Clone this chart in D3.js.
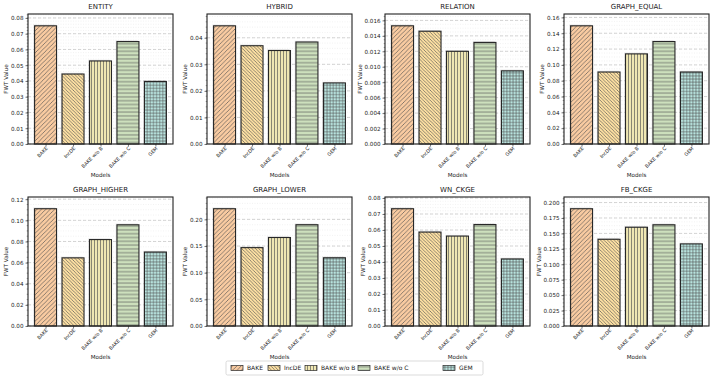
<!DOCTYPE html>
<html>
<head>
<meta charset="utf-8">
<script src="https://cdn.jsdelivr.net/npm/d3@7"></script>
<style>
  body { margin: 0; background: #fff; }
  svg text { font-family: "DejaVu Sans", sans-serif; fill: #222; }
</style>
</head>
<body>
<svg id="chart"></svg>
<script>
let W = 713, H = 378

// data
const models = ['BAKE', 'IncDE', 'BAKE w/o B', 'BAKE w/o C', 'GEM']
const datasets = ['ENTITY', 'HYBRID', 'RELATION', 'GRAPH_EQUAL', 'GRAPH_HIGHER', 'GRAPH_LOWER', 'WN_CKGE', 'FB_CKGE']
const entityVals = [0.0750, 0.0444, 0.0527, 0.0650, 0.0397]
const hybridVals = [0.0445, 0.0370, 0.0352, 0.0384, 0.0230]
const relationVals = [0.0153, 0.0146, 0.0120, 0.01315, 0.00947]
const graphEqualVals = [0.1494, 0.0910, 0.1139, 0.1295, 0.0910]
const graphHigherVals = [0.1110, 0.0645, 0.0818, 0.0958, 0.0700]
const graphLowerVals = [0.2200, 0.1470, 0.1660, 0.1900, 0.1280]
const wnCkgeVals = [0.0733, 0.0587, 0.0562, 0.0634, 0.0419]
const fbCkgeVals = [0.1900, 0.1405, 0.1600, 0.1640, 0.1330]
const allVals = [entityVals, hybridVals, relationVals, graphEqualVals, graphHigherVals, graphLowerVals, wnCkgeVals, fbCkgeVals]
const tickSteps = [0.01, 0.01, 0.002, 0.02, 0.02, 0.05, 0.01, 0.025]
const tickFormats = ['.2f', '.2f', '.3f', '.2f', '.2f', '.2f', '.2f', '.3f']

const fills = ['#f9cba1', '#fde0a2', '#efe7b3', '#cde0bd', '#b8e3de']
const hatches = ['diag', 'back', 'vert', 'horiz', 'cross']

// panel frames (tight layout)
const panelLeft = [28, 207, 385, 564]
const panelRight = [173, 352, 530, 709]
const rowTop = [14, 197]
const rowBottom = [144, 326]

let svg = d3.select('#chart').attr('width', W).attr('height', H)
let defs = svg.append('defs')

function makeHatch(id, kind, fill, size){
  let p = defs.append('pattern').attr('id', id)
    .attr('patternUnits', 'userSpaceOnUse').attr('width', size).attr('height', size)
  p.append('rect').attr('width', size).attr('height', size).attr('fill', fill)
  let st = (sel) => sel.attr('stroke', '#505050').attr('stroke-width', kind == 'cross' ? 0.55 : 0.65).attr('fill', 'none')
  if(kind == 'diag'){
    st(p.append('path').attr('d', `M0,${size} L${size},0 M${-size/2},${size/2} L${size/2},${-size/2} M${size/2},${size*1.5} L${size*1.5},${size/2}`))
  } else if(kind == 'back'){
    st(p.append('path').attr('d', `M0,0 L${size},${size} M${-size/2},${size/2} L${size/2},${size*1.5} M${size/2},${-size/2} L${size*1.5},${size/2}`))
  } else if(kind == 'vert'){
    st(p.append('path').attr('d', `M${size/2},0 L${size/2},${size}`))
  } else if(kind == 'horiz'){
    st(p.append('path').attr('d', `M0,${size/2} L${size},${size/2}`))
  } else {
    st(p.append('path').attr('d', `M${size/2},0 L${size/2},${size} M0,${size/2} L${size},${size/2}`))
  }
}
const hatchSize = [4.4, 3.4, 3, 3.8, 3.1]
models.forEach((m, i) => makeHatch(`h${i}`, hatches[i], fills[i], hatchSize[i]))

const drawPanel = (k) => {
  let col = k % 4, row = Math.floor(k / 4)
  let x0 = panelLeft[col], x1 = panelRight[col], y0 = rowTop[row], y1 = rowBottom[row]
  let vals = allVals[k]
  let step = tickSteps[k]
  let yMax = d3.max(vals) * 1.1
  let x = d3.scaleLinear().domain([-0.64, 4.64]).range([x0, x1])
  let y = d3.scaleLinear().domain([0, yMax]).range([y1, y0])
  let g = svg.append('g')

  // minor grid
  let nMinor = [0.025, 0.02, 0.002].some(s => Math.abs(s - step) < 1e-9) ? 4 : 5
  let minorTicks = d3.range(0, yMax + 1e-12, step / nMinor)
  let majorTicks = d3.range(0, yMax + 1e-12, step)
  g.selectAll('.minor').data(minorTicks).enter().append('line')
    .attr('x1', x0).attr('x2', x1).attr('y1', d => y(d)).attr('y2', d => y(d))
    .attr('stroke', '#ddd').attr('stroke-width', 0.4).attr('stroke-dasharray', '1,1.5')
  g.selectAll('.major').data(majorTicks).enter().append('line')
    .attr('x1', x0).attr('x2', x1).attr('y1', d => y(d)).attr('y2', d => y(d))
    .attr('stroke', '#bbb').attr('stroke-width', 0.6).attr('stroke-dasharray', '3,2')

  // bars with light shadow
  let bw = x(0.4) - x(0)
  g.selectAll('.shadow').data(vals).enter().append('rect')
    .attr('x', (d, i) => x(i) - bw - 1.2).attr('y', d => y(d) - 1.2)
    .attr('width', bw * 2).attr('height', d => y1 - y(d) + 1.2)
    .attr('fill', '#999').attr('opacity', 0.3)
  g.selectAll('.bar').data(vals).enter().append('rect')
    .attr('x', (d, i) => x(i) - bw).attr('y', d => y(d))
    .attr('width', bw * 2).attr('height', d => y1 - y(d))
    .attr('fill', (d, i) => `url(#h${i})`)
    .attr('stroke', '#262626').attr('stroke-width', 1.1)

  // frame
  g.append('rect').attr('x', x0).attr('y', y0).attr('width', x1 - x0).attr('height', y1 - y0)
    .attr('fill', 'none').attr('stroke', '#222').attr('stroke-width', 1.1)

  // y axis
  let yAxis = d3.axisLeft(y).tickValues(majorTicks).tickFormat(d3.format(tickFormats[k])).tickSize(2.5).tickPadding(2)
  let ya = g.append('g').attr('transform', `translate(${x0},0)`).call(yAxis)
  ya.select('.domain').remove()
  ya.selectAll('text').style('font-size', '5.6px')
  ya.selectAll('line').attr('stroke', '#222').attr('stroke-width', 0.6)
  g.selectAll('.mtick').data(minorTicks).enter().append('line')
    .attr('x1', x0 - 1.3).attr('x2', x0).attr('y1', d => y(d)).attr('y2', d => y(d))
    .attr('stroke', '#222').attr('stroke-width', 0.4)

  // x axis
  let xAxis = d3.axisBottom(x).tickValues(d3.range(models.length)).tickFormat(i => models[i]).tickSize(2.5).tickPadding(2)
  let xa = g.append('g').attr('transform', `translate(0,${y1})`).call(xAxis)
  xa.select('.domain').remove()
  xa.selectAll('line').attr('stroke', '#222').attr('stroke-width', 0.6)
  xa.selectAll('text').style('font-size', '4.8px')
    .attr('text-anchor', 'end').attr('dy', 0).attr('y', 4)
    .attr('transform', 'rotate(-45 0 4) translate(1,2)')

  // labels
  g.append('text').text(datasets[k]).attr('x', (x0 + x1) / 2).attr('y', y0 - 5)
    .attr('text-anchor', 'middle').style('font-size', '7px')
  g.append('text').text('Models').attr('x', (x0 + x1) / 2).attr('y', y1 + 33)
    .attr('text-anchor', 'middle').style('font-size', '5.6px')
  let ylx = x0 - (tickFormats[k] == '.3f' ? 23 : 20)
  g.append('text').text('FWT Value').attr('text-anchor', 'middle')
    .attr('transform', `translate(${ylx},${(y0 + y1) / 2}) rotate(-90)`)
    .style('font-size', '5.6px')
}

datasets.forEach((d, k) => drawPanel(k))

// legend
let lg = svg.append('g')
lg.append('rect').attr('x', 226).attr('y', 361).attr('width', 257).attr('height', 14)
  .attr('rx', 1.5).attr('fill', '#fff').attr('stroke', '#ccc').attr('stroke-width', 0.7)
const legendX = [231, 268, 305, 358, 443]
models.forEach((m, i) => {
  lg.append('rect').attr('x', legendX[i]).attr('y', 365.5).attr('width', 12).attr('height', 5)
    .attr('fill', `url(#h${i})`).attr('stroke', '#262626').attr('stroke-width', 0.7)
  lg.append('text').text(m).attr('x', legendX[i] + 16).attr('y', 370.3).style('font-size', '6px')
})
</script>
</body>
</html>
